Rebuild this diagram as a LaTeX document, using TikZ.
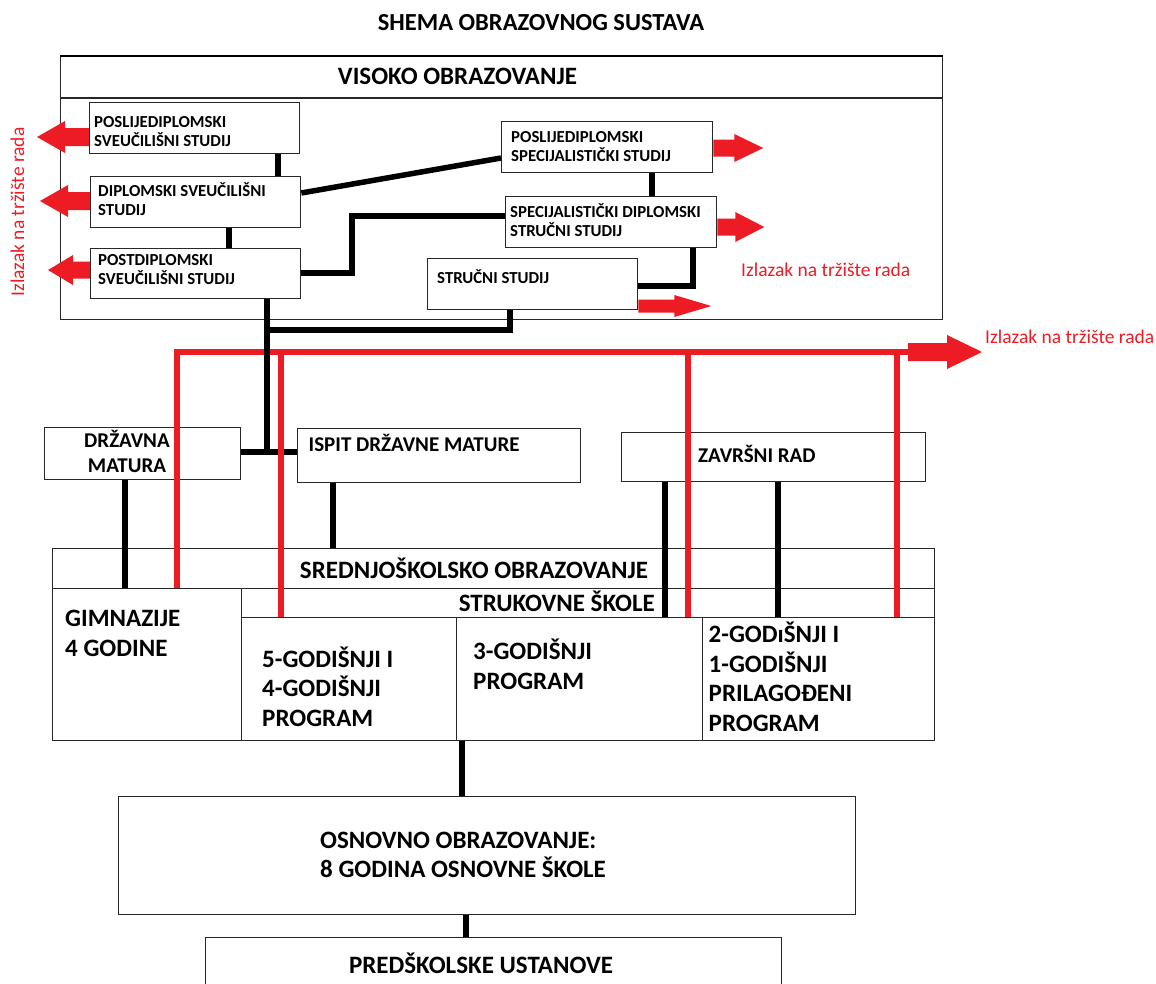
\documentclass[tikz,border=0pt]{standalone}
\usepackage{fontspec}
\setmainfont{Carlito}
\usetikzlibrary{calc}
\definecolor{arrred}{RGB}{237,28,36}
\definecolor{edgegray}{RGB}{40,40,40}
\newcommand\firstrule{\rule{0pt}{1em}}
% #1 start coord, #2 signed length, #3 shaft width, #4 head width, #5 signed head length
\newcommand\fatarr[5]{\fill[arrred] #1 ++(0,{(#3)/2}) -- ++({(#2)-(#5)},0) -- ++(0,{((#4)-(#3))/2}) -- ++({#5},{-(#4)/2}) -- ++({-(#5)},{-(#4)/2}) -- ++(0,{((#4)-(#3))/2}) -- ++({(#5)-(#2)},0) -- cycle;}
\begin{document}
\begin{tikzpicture}[x=1pt,y=-1pt,
 box/.style={draw=edgegray, line width=1.3pt, anchor=north west, inner sep=0pt, fill=white},
 conn/.style={line width=5.5pt, black},
 redline/.style={line width=5.5pt, arrred},
 txt/.style={anchor=north west, inner sep=0pt, align=left},
 bigtxt/.style={inner sep=0pt, font=\fontsize{25}{30}\selectfont\bfseries},
 midtxt/.style={inner sep=0pt, font=\fontsize{21}{25}\selectfont\bfseries},
 smalltxt/.style={inner sep=0pt, font=\fontsize{16.8}{19}\selectfont\bfseries},
 redtxt/.style={inner sep=0pt, font=\fontsize{19.5}{23}\selectfont, text=arrred}]
\useasboundingbox (0,0) rectangle (1156,983);

% ---------- boxes ----------
\node[box, minimum width=882pt, minimum height=263pt] (VIS) at (60,56) {};
\draw[draw=edgegray, line width=1.3pt] (VIS.west |- 0,98) -- (VIS.east |- 0,98);
\draw[line width=2.6pt] (VIS.north west) -- (VIS.north east);
\node[box, minimum width=210pt, minimum height=51pt] (PSS) at (89,102) {};
\node[box, minimum width=210pt, minimum height=51pt] (DSS) at (90,176) {};
\node[box, minimum width=210pt, minimum height=50pt] (PDSS) at (90,248) {};
\node[box, minimum width=211pt, minimum height=51pt] (PSSpec) at (501,121) {};
\node[box, minimum width=211pt, minimum height=51pt] (SDSS) at (505,196) {};
\node[box, minimum width=210pt, minimum height=51pt] (STR) at (427,258) {};
\node[box, minimum width=196pt, minimum height=52pt] (DM) at (44,427) {};
\node[box, minimum width=283pt, minimum height=54pt] (IDM) at (297,428) {};
\node[box, minimum width=304pt, minimum height=49pt] (ZR) at (621,432) {};
\node[box, minimum width=882pt, minimum height=40pt] (SSH) at (52,548) {};
\node[box, minimum width=189pt, minimum height=152pt] (GIM) at (52,588) {};
\node[box, minimum width=693pt, minimum height=29pt] (STRH) at (241,588) {};
\node[box, minimum width=215pt, minimum height=123pt] (C5) at (241,617) {};
\node[box, minimum width=246pt, minimum height=123pt] (C3) at (456,617) {};
\node[box, minimum width=232pt, minimum height=123pt] (C2) at (702,617) {};
\node[box, minimum width=737pt, minimum height=118pt] (OSN) at (118,796) {};
\node[box, minimum width=576pt, minimum height=60pt] (PRED) at (205,937) {};

% ---------- black connectors ----------
\coordinate (J) at (267,452);
\coordinate (J2) at (267,330);
\draw[conn] (278,0 |- PSS.south) -- (278,0 |- DSS.north);
\draw[conn] (229,0 |- DSS.south) -- (229,0 |- PDSS.north);
\draw[conn] (DSS.east |- 0,193) -- (PSSpec.west |- 0,158);
\draw[conn] (PDSS.east |- 0,273) -| (352,216) -- (SDSS.west |- 0,216);
\draw[conn] (652,0 |- PSSpec.south) -- (652,0 |- SDSS.north);
\draw[conn] (693,0 |- SDSS.south) |- (STR.east |- 0,286);
\draw[conn] (510,0 |- STR.south) |- (J2);
\draw[conn] (DM.east |- J) -- (IDM.west |- J);
\draw[conn] (125,0 |- DM.south) -- (125,0 |- GIM.north);
\draw[conn] (333,0 |- IDM.south) -- (333,0 |- SSH.north);
\draw[conn] (665,0 |- ZR.south) -- (665,0 |- C3.north);
\draw[conn] (778,0 |- ZR.south) -- (778,0 |- C2.north);
\draw[conn] (462,0 |- C3.south) -- (462,0 |- OSN.north);
\draw[conn] (466,0 |- OSN.south) -- (466,0 |- PRED.north);

% ---------- red lines and arrows ----------
\coordinate (R0) at (177,352);
\coordinate (RE) at (908,352);
\draw[redline] (177,0 |- GIM.north) -- (R0) -- (RE);
\draw[redline] (281,352) -- (281,0 |- C5.north);
\draw[redline] (688,352) -- (688,0 |- C3.north);
\draw[redline] (897,352) -- (897,0 |- C2.north);
\fatarr{(RE)}{74}{18}{34}{35}
\draw[conn] (267,0 |- PDSS.south) -- (J);

\fatarr{(PSS.west |- 0,137)}{-52}{18}{32}{-28}
\fatarr{(DSS.west |- 0,201)}{-50}{18}{32}{-28}
\fatarr{(PDSS.west |- 0,270)}{-42}{17}{30}{-25}
\fatarr{(PSSpec.east |- 0,148)}{50}{17}{28}{29}
\fatarr{(SDSS.east |- 0,227)}{47}{17}{30}{29}
\fatarr{(STR.east |- 0,306)}{73}{13}{22}{37}

% ---------- texts ----------
\node[inner sep=0pt, font=\fontsize{24.5}{28}\selectfont\bfseries, anchor=base] (title) at (541,30) {SHEMA OBRAZOVNOG SUSTAVA};
\node[bigtxt, anchor=base] (tVIS) at (457.5,84) {VISOKO OBRAZOVANJE};
\node[smalltxt, txt] (tPSS) at (94,110.2) {\firstrule POSLIJEDIPLOMSKI\\SVEUČILIŠNI STUDIJ};
\node[smalltxt, txt] (tDSS) at (98,179.2) {\firstrule DIPLOMSKI SVEUČILIŠNI\\STUDIJ};
\node[smalltxt, txt] (tPDSS) at (98,248.2) {\firstrule POSTDIPLOMSKI\\SVEUČILIŠNI STUDIJ};
\node[smalltxt, txt] (tPSSpec) at (511,125.2) {\firstrule POSLIJEDIPLOMSKI\\SPECIJALISTIČKI STUDIJ};
\node[smalltxt, txt] (tSDSS) at (510,200.2) {\firstrule SPECIJALISTIČKI DIPLOMSKI\\STRUČNI STUDIJ};
\node[smalltxt, anchor=base west] (tSTR) at (437,283) {STRUČNI STUDIJ};

\node[redtxt, rotate=90, anchor=base] (rL) at (24,212) {Izlazak na tržište rada};
\node[redtxt, anchor=base west] (rM) at (741,276) {Izlazak na tržište rada};
\node[redtxt, anchor=base west] (rR) at (985,343) {Izlazak na tržište rada};

\node[midtxt, anchor=north, align=center] (tDM) at (127,426) {\firstrule DRŽAVNA\\MATURA};
\node[midtxt, anchor=base west] (tIDM) at (308.5,451) {ISPIT DRŽAVNE MATURE};
\node[midtxt, anchor=base west] (tZR) at (698,462) {ZAVRŠNI RAD};

\node[bigtxt, anchor=base] (tSSH) at (474,578) {SREDNJOŠKOLSKO OBRAZOVANJE};
\node[bigtxt, anchor=base east] (tSTRH) at (655,611) {STRUKOVNE ŠKOLE};
\node[bigtxt, txt] (tGIM) at (65,601) {\firstrule GIMNAZIJE\\4 GODINE};
\node[bigtxt, txt, font=\fontsize{25}{29.5}\selectfont\bfseries] (tC5) at (262,642) {\firstrule 5-GODIŠNJI I\\4-GODIŠNJI\\PROGRAM};
\node[bigtxt, txt] (tC3) at (473,634) {\firstrule 3-GODIŠNJI\\PROGRAM};
\node[bigtxt, txt, font=\fontsize{25}{29.8}\selectfont\bfseries] (tC2) at (708.5,617) {\firstrule 2-GODıŠNJI I\\1-GODIŠNJI\\PRILAGOĐENI\\PROGRAM};
\node[bigtxt, txt, font=\fontsize{25}{29}\selectfont\bfseries] (tOSN) at (320,823) {\firstrule OSNOVNO OBRAZOVANJE:\\8 GODINA OSNOVNE ŠKOLE};
\node[bigtxt, anchor=base] (tPRED) at (481,973) {PREDŠKOLSKE USTANOVE};
\end{tikzpicture}
\end{document}
